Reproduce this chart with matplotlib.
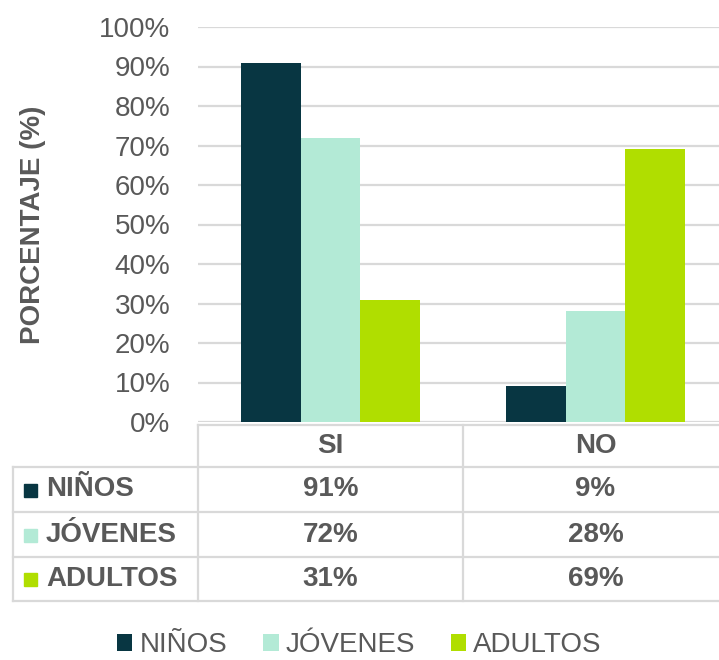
import numpy as np
import matplotlib
matplotlib.use('Agg')
import matplotlib.pyplot as plt
from matplotlib.patches import Rectangle

plt.rcParams['font.family'] = ['Liberation Sans', 'DejaVu Sans']

# data
categories = ['SI', 'NO']
groups = ['NIÑOS', 'JÓVENES', 'ADULTOS']
values = {
	'NIÑOS': [91, 9],
	'JÓVENES': [72, 28],
	'ADULTOS': [31, 69],
}
colors = ['#083642', '#b3ead6', '#b0de00']
yticks = [0, 10, 20, 30, 40, 50, 60, 70, 80, 90, 100]

W, H = 719, 660
gray = '#595959'
grid = '#d9d9d9'

fig = plt.figure(figsize=(W/100, H/100), dpi=100)

# plot area (pixel layout)
left, right, top, bottom = 198, 728, 27, 422
ax = fig.add_axes([left/W, 1-bottom/H, (right-left)/W, (bottom-top)/H])

x = np.arange(len(categories))
bw = 0.225
for i, g in enumerate(groups):
	ax.bar(x + (i-1)*bw, np.array(values[g])/100, bw, color=colors[i], label=g, zorder=3)

ax.set_xlim(-0.5, len(categories)-0.5)
ax.set_ylim(0, 1)
ax.set_yticks([t/100 for t in yticks])
ax.set_yticklabels([f'{t}%' for t in yticks])
ax.set_xticks([])
ax.tick_params(axis='y', length=0, pad=20, labelsize=20, labelcolor=gray)
ax.yaxis.grid(True, color=grid, linewidth=1.6, zorder=0)
ax.set_axisbelow(True)
for s in ax.spines.values():
	s.set_visible(False)
ax.set_ylabel('PORCENTAJE (%)', fontsize=20, fontweight='bold', color=gray, labelpad=38)

# data table below the plot, drawn in pixel coords on an overlay
ov = fig.add_axes([0, 0, 1, 1])
ov.set_xlim(0, W)
ov.set_ylim(H, 0)
ov.axis('off')

tbl_left = 13
row_y = [425, 467, 512, 557, 601]
col_w = (right - left) / len(categories)
lw = 1.6

# horizontal lines
ov.plot([left, W], [row_y[0], row_y[0]], color=grid, lw=lw)
for yy in row_y[1:]:
	ov.plot([tbl_left, W], [yy, yy], color=grid, lw=lw)
# vertical lines
ov.plot([tbl_left, tbl_left], [row_y[1], row_y[-1]], color=grid, lw=lw)
for j in range(len(categories)):
	xx = left + j*col_w
	ov.plot([xx, xx], [row_y[0], row_y[-1]], color=grid, lw=lw)

# header
for j, c in enumerate(categories):
	ov.text(left + (j+0.5)*col_w, (row_y[0]+row_y[1])/2, c, ha='center', va='center',
		fontsize=20, fontweight='bold', color=gray)

# rows
for i, g in enumerate(groups):
	yc = (row_y[i+1] + row_y[i+2]) / 2
	ov.add_patch(Rectangle((24, yc-6), 13, 13, color=colors[i]))
	ov.text(46, yc, g, ha='left', va='center', fontsize=20, fontweight='bold', color=gray)
	for j in range(len(categories)):
		ov.text(left + (j+0.5)*col_w, yc, f'{values[g][j]}%', ha='center', va='center',
			fontsize=20, fontweight='bold', color=gray)

# legend
handles, labels = ax.get_legend_handles_labels()
fig.legend(handles, labels, loc='center', bbox_to_anchor=(0.5, 1-645/H), ncol=3,
	frameon=False, fontsize=20, labelcolor=gray, handlelength=0.55, handleheight=0.55,
	handletextpad=0.25, columnspacing=1.3)

fig.savefig('out.png', dpi=100)
